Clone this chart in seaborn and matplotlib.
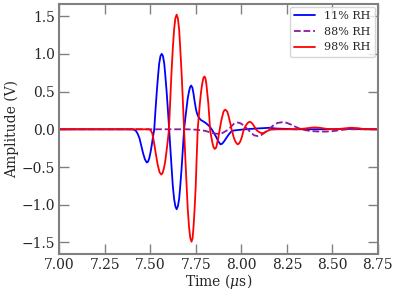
import numpy as np
import pandas as pd
import matplotlib
matplotlib.use("Agg")
import matplotlib.pyplot as plt
import seaborn as sns

# Señales (tiempo en microsegundos, amplitud en V)
t_11 = [7.00, 7.40, 7.41, 7.42, 7.43, 7.44, 7.45, 7.46, 7.47, 7.48, 7.487, 7.494,
        7.501, 7.508, 7.514, 7.521, 7.528, 7.535, 7.542, 7.548, 7.555, 7.562, 7.569,
        7.576, 7.582, 7.589, 7.596, 7.603, 7.610, 7.617, 7.623, 7.630, 7.637, 7.644,
        7.651, 7.658, 7.664, 7.671, 7.678, 7.685, 7.692, 7.699, 7.705, 7.712, 7.718,
        7.724, 7.731, 7.737, 7.743, 7.750, 7.756, 7.763, 7.771, 7.779, 7.79, 7.806,
        7.82, 7.834, 7.847, 7.861, 7.873, 7.885, 7.895, 7.905, 7.916, 7.93, 7.944,
        7.96, 7.98, 8.02, 8.08, 8.12, 8.155, 8.19, 8.30, 8.45, 8.60, 8.75]
a_11 = [0.0, 0.0, -0.005, -0.02, -0.06, -0.12, -0.22, -0.32, -0.40, -0.44, -0.43, -0.38,
        -0.30, -0.20, -0.10, 0.0, 0.26, 0.50, 0.71, 0.87, 0.97, 1.00, 0.97,
        0.87, 0.71, 0.50, 0.26, 0.0, -0.27, -0.53, -0.75, -0.92, -1.02, -1.06,
        -1.02, -0.92, -0.75, -0.53, -0.27, 0.0, 0.15, 0.29, 0.41, 0.50, 0.56,
        0.58, 0.55, 0.47, 0.37, 0.27, 0.21, 0.17, 0.14, 0.12, 0.105, 0.08,
        0.05, 0.01, -0.04, -0.10, -0.16, -0.20, -0.19, -0.16, -0.12, -0.07, -0.03,
        -0.015, -0.01, 0.0, 0.01, 0.015, 0.02, 0.01, 0.0, 0.0, 0.005, 0.0]

t_88 = [7.00, 7.70, 7.75, 7.80, 7.82, 7.84, 7.86, 7.88, 7.895, 7.91, 7.93, 7.945,
        7.96, 7.98, 7.995, 8.01, 8.035, 8.05, 8.07, 8.09, 8.11, 8.13, 8.16, 8.18,
        8.20, 8.227, 8.25, 8.27, 8.30, 8.33, 8.36, 8.39, 8.43, 8.467, 8.50, 8.53,
        8.58, 8.75]
a_88 = [0.0, 0.0, -0.005, -0.02, -0.035, -0.05, -0.058, -0.06, -0.05, -0.03, 0.0, 0.04,
        0.075, 0.09, 0.08, 0.055, 0.0, -0.04, -0.08, -0.09, -0.075, -0.04, 0.02, 0.06,
        0.085, 0.095, 0.085, 0.065, 0.03, 0.0, -0.015, -0.025, -0.03, -0.03, -0.025, -0.015,
        0.0, 0.0]

t_98 = [7.00, 7.49, 7.50, 7.51, 7.52, 7.53, 7.54, 7.55, 7.56, 7.567, 7.574, 7.581,
        7.588, 7.595, 7.602, 7.609, 7.616, 7.623, 7.630, 7.637, 7.644, 7.651, 7.658,
        7.664, 7.671, 7.678, 7.685, 7.692, 7.699, 7.705, 7.712, 7.719, 7.726, 7.732,
        7.737, 7.743, 7.749, 7.754, 7.76, 7.766, 7.772, 7.778, 7.785, 7.791, 7.797,
        7.802, 7.807, 7.812, 7.818, 7.823, 7.828, 7.832, 7.837, 7.841, 7.846, 7.850,
        7.854, 7.859, 7.863, 7.867, 7.872, 7.876, 7.881, 7.886, 7.891, 7.896, 7.901,
        7.906, 7.911, 7.917, 7.923, 7.929, 7.934, 7.940, 7.946, 7.952, 7.957, 7.963,
        7.969, 7.975, 7.98, 7.986, 7.992, 7.997, 8.003, 8.008, 8.014, 8.022, 8.030,
        8.038, 8.046, 8.054, 8.062, 8.070, 8.08, 8.09, 8.10, 8.11, 8.12, 8.13, 8.14,
        8.16, 8.20, 8.30, 8.35, 8.38, 8.40, 8.43, 8.47, 8.52, 8.56, 8.60, 8.64, 8.68,
        8.75]
a_98 = [0.0, 0.0, -0.01, -0.05, -0.18, -0.33, -0.47, -0.57, -0.60, -0.58, -0.52, -0.43,
        -0.30, -0.16, 0.0, 0.39, 0.76, 1.07, 1.32, 1.47, 1.52, 1.47, 1.32,
        1.07, 0.76, 0.39, 0.0, -0.39, -0.75, -1.05, -1.29, -1.44, -1.49, -1.44,
        -1.29, -1.05, -0.75, -0.39, 0.0, 0.18, 0.35, 0.49, 0.61, 0.68, 0.70,
        0.68, 0.61, 0.49, 0.35, 0.18, 0.0, -0.07, -0.13, -0.18, -0.23, -0.25,
        -0.26, -0.25, -0.23, -0.18, -0.13, -0.07, 0.0, 0.07, 0.13, 0.18, 0.23,
        0.25, 0.26, 0.25, 0.23, 0.18, 0.13, 0.07, 0.0, -0.05, -0.10, -0.14,
        -0.17, -0.19, -0.20, -0.19, -0.17, -0.14, -0.10, -0.05, 0.0, 0.04, 0.07,
        0.09, 0.10, 0.09, 0.07, 0.04, 0.0, -0.025, -0.04, -0.05, -0.05, -0.04, -0.025,
        -0.005, 0.0, 0.0, 0.01, 0.02, 0.025, 0.02, 0.005, 0.0, 0.01, 0.02, 0.015, 0.0,
        0.0]

etiquetas = ["11% RH", "88% RH", "98% RH"]
colores = ["#0000ff", "#8b1a9a", "#ff0000"]
estilos = ["-", "--", "-"]

df = pd.concat([
    pd.DataFrame({"Tiempo": t_11, "Amplitud": a_11, "Muestra": etiquetas[0]}),
    pd.DataFrame({"Tiempo": t_88, "Amplitud": a_88, "Muestra": etiquetas[1]}),
    pd.DataFrame({"Tiempo": t_98, "Amplitud": a_98, "Muestra": etiquetas[2]}),
])

sns.set_style("ticks")
plt.rcParams["font.family"] = ["DejaVu Serif"]
plt.rcParams["mathtext.fontset"] = "dejavuserif"

fig, ax = plt.subplots(figsize=(3.99, 2.91), dpi=100)
fig.subplots_adjust(left=0.149, right=0.947, top=0.986, bottom=0.128)

for etiqueta, color, estilo in zip(etiquetas, colores, estilos):
    sns.lineplot(data=df[df["Muestra"] == etiqueta], x="Tiempo", y="Amplitud",
                 color=color, linestyle=estilo, linewidth=1.3, label=etiqueta,
                 ax=ax, estimator=None, sort=False)

ax.set_xlim(7.0, 8.75)
ax.set_ylim(-1.65, 1.66)
ax.set_xticks([7.00, 7.25, 7.50, 7.75, 8.00, 8.25, 8.50, 8.75])
ax.set_xticklabels(["7.00", "7.25", "7.50", "7.75", "8.00", "8.25", "8.50", "8.75"])
ax.set_yticks([-1.5, -1.0, -0.5, 0.0, 0.5, 1.0, 1.5])
ax.set_xlabel(r"Time ($\mu$s)", fontsize=10, labelpad=0)
ax.set_ylabel("Amplitude (V)", fontsize=10, labelpad=2)

ax.tick_params(direction="in", length=7, width=1, color="#808080",
               top=True, right=True, labelsize=10, pad=3)
for lado in ax.spines.values():
    lado.set_color("#808080")
    lado.set_linewidth(1.5)

ax.legend(loc="upper right", fontsize=8, frameon=True, handlelength=1.9,
          borderaxespad=0.25, fancybox=True)

plt.savefig("out.png", dpi=100)
